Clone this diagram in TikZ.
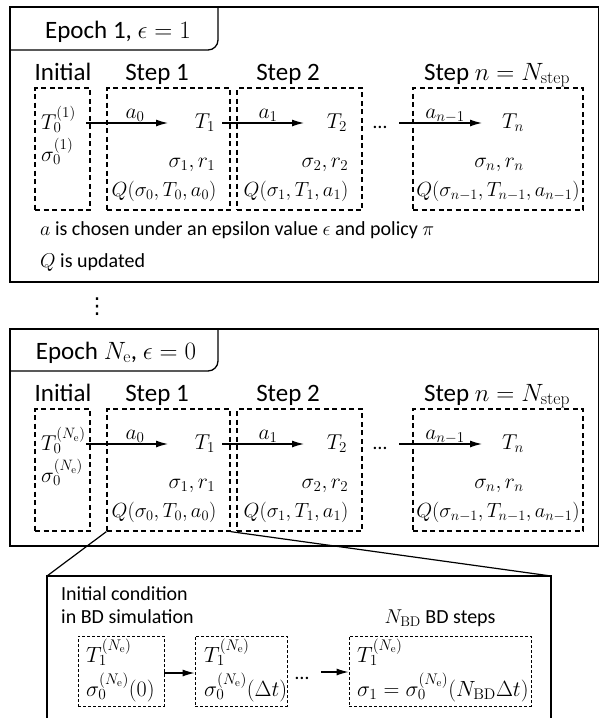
\RequirePackage{fix-cm}
\documentclass[tikz,border=0pt]{standalone}
\usepackage[no-math]{fontspec}
\setmainfont{Carlito}
\newfontfamily\symfont{DejaVu Sans}
\usetikzlibrary{arrows.meta}

\tikzset{
  outer/.style={line width=1.3pt},
  stepbox/.style={draw, line width=1.2pt, dash pattern=on 5pt off 3.5pt, inner sep=0pt},
  bdbox/.style={draw, line width=0.8pt, dash pattern=on 3pt off 2pt, inner sep=0pt},
  flow/.style={line width=1.2pt, -{Latex[length=12pt,width=7pt]}},
  head/.style={font=\fontsize{25}{29}\selectfont, anchor=base, inner sep=0pt},
  txt/.style={font=\fontsize{20}{24}\selectfont, anchor=base, inner sep=0pt},
  txtl/.style={txt, anchor=base west},
  mth/.style={font=\fontsize{21.5}{25}\selectfont, anchor=base, inner sep=0pt},
  mthl/.style={mth, anchor=base west},
  qrow/.style={font=\fontsize{20.5}{24}\selectfont, anchor=base, inner sep=0pt},
  bdm/.style={font=\fontsize{22}{26}\selectfont, anchor=base west, inner sep=0pt},
}

% One epoch: #1 name prefix, #2 vertical offset, #3 epoch superscript
\newcommand\epochrow[3]{%
\begin{scope}[yshift=-#2pt]
  % column titles
  \node[head] (#1hinit) at (63,80) {Initial};
  \node[head] (#1hs1) at (157,80) {Step 1};
  \node[head] (#1hs2) at (288,80) {Step 2};
  \node[head] (#1hsn) at (497,80) {Step $n = N_{\mathrm{step}}$};
  % dashed step boxes
  \node[stepbox, minimum width=55pt, minimum height=122pt] (#1init) at (62.5,149) {};
  \node[stepbox, minimum width=123pt, minimum height=122pt] (#1s1) at (168.5,149) {};
  \node[stepbox, minimum width=125pt, minimum height=122pt] (#1s2) at (299.5,149) {};
  \node[stepbox, minimum width=170pt, minimum height=122pt] (#1sn) at (498,149) {};
  % initial state (temperature above stress); the node's base is its last line
  \node[mthl, align=left, font=\fontsize{21.5}{32}\selectfont] (#1st0) at (41,161)
       {$T_0^{(#3)}$\\$\sigma_0^{(#3)}$};
  % temperatures
  \node[mth] (#1T1) at (205,128) {$T_1$};
  \node[mth] (#1T2) at (337,128) {$T_2$};
  \node[mth] (#1Tn) at (513,128) {$T_n$};
  \node[txt] (#1dots) at (380,128) {\ldots};
  % actions
  \node[mth] (#1a0) at (135,118) {$a_0$};
  \node[mth] (#1a1) at (268,118) {$a_1$};
  \node[mth] (#1an) at (445,118) {$a_{n-1}$};
  \coordinate (#1a0s) at (86,123);  \coordinate (#1a0e) at (168,123);
  \coordinate (#1a1s) at (222,123); \coordinate (#1a1e) at (304,123);
  \coordinate (#1ans) at (399,123); \coordinate (#1ane) at (482,123);
  \draw[flow] (#1a0s) -- (#1a0e);
  \draw[flow] (#1a1s) -- (#1a1e);
  \draw[flow] (#1ans) -- (#1ane);
  % stresses and rewards
  \node[mth] (#1sr1) at (192,167) {$\sigma_1, r_1$};
  \node[mth] (#1sr2) at (325,167) {$\sigma_2, r_2$};
  \node[mth] (#1srn) at (499,167) {$\sigma_n, r_n$};
  % Q values
  \node[qrow] (#1Q1) at (164,196) {$Q(\sigma_0, T_0, a_0)$};
  \node[qrow] (#1Q2) at (296,196) {$Q(\sigma_1, T_1, a_1)$};
  \node[qrow] (#1Qn) at (498,196) {$Q(\sigma_{n-1}, T_{n-1}, a_{n-1})$};
\end{scope}}

\begin{document}
\begin{tikzpicture}[x=1pt, y=-1pt]
  \useasboundingbox (0,0) rectangle (600,718);

  % ---- first epoch ----
  \draw[outer] (10,7) rectangle (598.5,282);
  \draw[outer, rounded corners=10pt] (10,50) -- (218,50) -- (218,7);
  \node[head] (ep1) at (118,38.5) {Epoch 1, $\epsilon = 1$};
  \epochrow{e1}{0}{1}
  \node[txtl] (note1) at (40,235) {$a$ is chosen under an epsilon value $\epsilon$ and policy $\pi$};
  \node[txtl] (note2) at (40,267) {$Q$ is updated};

  \node[font=\symfont\fontsize{22}{26}\selectfont, inner sep=0pt] (vdots) at (97,307) {⋮};

  % ---- last epoch ----
  \draw[outer] (10,329) rectangle (598.5,546);
  \draw[outer, rounded corners=10pt] (10,371) -- (218,371) -- (218,329);
  \node[head] (ep2) at (116,359) {Epoch $N_{\mathrm{e}}$, $\epsilon = 0$};
  \epochrow{e2}{321}{N_{\mathrm{e}}}

  % ---- BD simulation detail ----
  \coordinate (bdtl) at (47,576);
  \coordinate (bdtr) at (551,576);
  \coordinate (bdbl) at (47,718);
  \coordinate (bdbr) at (551,718);
  \draw[outer] (bdbl) -- (bdtl) -- (bdtr) -- (bdbr);
  \draw[line width=1.2pt] (e2s1.south west) -- (bdtl);
  \draw[line width=1.2pt] (e2s1.south east) -- (bdtr);

  \node[txtl] (ic1) at (61,600) {Initial condition};
  \node[txtl] (ic2) at (61,623) {in BD simulation};
  \node[txt] (nbd) at (440,623) {$N_{\mathrm{BD}}$ BD steps};

  \node[bdbox, minimum width=86pt, minimum height=70pt] (bd1) at (121,671) {};
  \node[bdbox, minimum width=92pt, minimum height=70pt] (bd2) at (241,671) {};
  \node[bdbox, minimum width=182pt, minimum height=70pt] (bd3) at (440,671) {};

  \node[bdm] (bd1T) at (86,662) {$T_1^{(N_{\mathrm{e}})}$};
  \node[bdm] (bd1s) at (86,696) {$\sigma_0^{(N_{\mathrm{e}})}(0)$};
  \node[bdm] (bd2T) at (204,662) {$T_1^{(N_{\mathrm{e}})}$};
  \node[bdm] (bd2s) at (204,696) {$\sigma_0^{(N_{\mathrm{e}})}(\Delta t)$};
  \node[bdm] (bd3T) at (357,662) {$T_1^{(N_{\mathrm{e}})}$};
  \node[bdm] (bd3s) at (357,696) {$\sigma_1 = \sigma_0^{(N_{\mathrm{e}})}(N_{\mathrm{BD}}\Delta t)$};
  \node[txt] (bddots) at (302,679) {\ldots};

  \draw[flow] (bd1.east |- 0,673) -- (bd2.west |- 0,673);
  \coordinate (bda2s) at (321,672);
  \draw[flow] (bda2s) -- (bd3.west |- bda2s);
\end{tikzpicture}
\end{document}
